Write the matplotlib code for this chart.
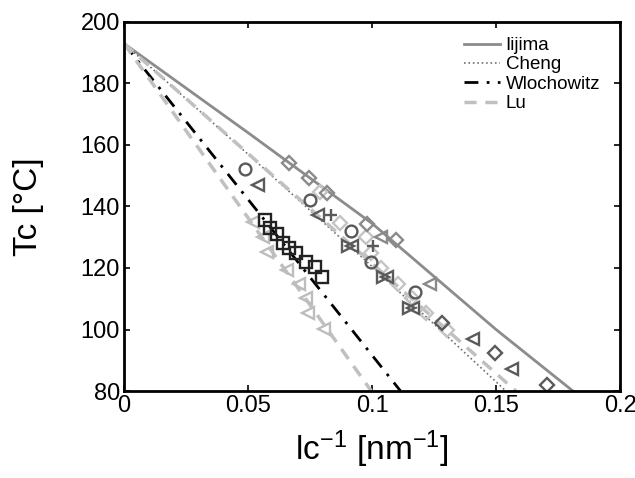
import numpy as np
import matplotlib
matplotlib.use('Agg')
import matplotlib.pyplot as plt

plt.rcParams['font.family'] = ['Liberation Sans', 'DejaVu Sans']
plt.rcParams['mathtext.fontset'] = 'custom'
plt.rcParams['mathtext.rm'] = 'Liberation Sans'
plt.rcParams['mathtext.it'] = 'Liberation Sans'

# model curves (x = 1/lc in nm^-1, y = Tc in degC)
iijima_x = [0, 0.05, 0.1, 0.15, 0.181]
iijima_y = [193, 164, 134.5, 100, 80]
cheng_x = [0, 0.05, 0.1, 0.154]
cheng_y = [193, 157, 120.5, 80]
wlo_x = [0, 0.1115]
wlo_y = [193, 80]
lu_x = [0, 0.158]
lu_y = [193, 80]
lu2_x = [0, 0.0997]
lu2_y = [193, 80]

# measured points
sq_x = [0.0569, 0.0589, 0.0617, 0.0641, 0.0665, 0.0694, 0.0734, 0.0770, 0.0798]
sq_y = [135.6, 133.0, 131.1, 128.1, 126.5, 124.9, 122.0, 120.3, 117.1]

ltri_x = [0.052, 0.056, 0.0577, 0.0657, 0.0706, 0.0734, 0.0742, 0.0806]
ltri_y = [135.0, 130.1, 125.2, 119.3, 114.8, 110.2, 105.4, 100.2]

ldia_x = [0.079, 0.0871, 0.0976, 0.0996, 0.1036, 0.1105, 0.1161, 0.1218, 0.1302]
ldia_y = [144.7, 134.6, 130.1, 124.9, 120.0, 114.8, 110.2, 105.4, 99.8]

mdia_x = [0.0665, 0.0746, 0.0819, 0.0980, 0.1097]
mdia_y = [154.1, 149.3, 144.4, 134.3, 129.1]
mtri_x = [0.1036, 0.1234]
mtri_y = [130.1, 114.8]

ddia_x = [0.1282, 0.1496, 0.1705]
ddia_y = [102.1, 92.4, 82.0]
dtri_x = [0.054, 0.0782, 0.0919, 0.106, 0.1165, 0.1407, 0.1565]
dtri_y = [147.0, 137.2, 127.2, 117.1, 107.0, 96.9, 87.2]
dtri2_x = [0.0905, 0.1046, 0.1151]
dtri2_y = [127.2, 117.1, 107.0]
circ_x = [0.0488, 0.075, 0.0915, 0.0996, 0.1173]
circ_y = [152.2, 142.1, 132.0, 122.0, 112.2]
plus_x = [0.0835, 0.1004]
plus_y = [137.2, 127.2]

fig = plt.figure(figsize=(6.35, 4.78), dpi=100)
ax = fig.add_axes([0.1953, 0.182, 0.7811, 0.772])

ax.plot(iijima_x, iijima_y, '-', color='#8c8c8c', lw=2, label='Iijima')
ax.plot(cheng_x, cheng_y, ':', color='#707070', lw=1.2, label='Cheng')
ax.plot(wlo_x, wlo_y, color='black', lw=2, dashes=(5, 3, 1, 3), label='Wlochowitz')
ax.plot(lu_x, lu_y, color='#c0c0c0', lw=2.5, dashes=(3.5, 2.5), label='Lu')
ax.plot(lu2_x, lu2_y, color='#c0c0c0', lw=2.5, dashes=(3.5, 2.5))

mk = dict(ls='none', mfc='none', mew=1.7, ms=8.5)
ax.plot(ltri_x, ltri_y, '<', mec='#bdbdbd', **mk)
ax.plot(ldia_x, ldia_y, 'D', mec='#c4c4c4', **dict(mk, ms=7))
ax.plot(mdia_x, mdia_y, 'D', mec='#8a8a8a', **dict(mk, ms=7))
ax.plot(mtri_x, mtri_y, '<', mec='#8a8a8a', **mk)
ax.plot(ddia_x, ddia_y, 'D', mec='#5a5a5a', **dict(mk, ms=7))
ax.plot(dtri_x, dtri_y, '<', mec='#5a5a5a', **mk)
ax.plot(dtri2_x, dtri2_y, '>', mec='#5a5a5a', **mk)
ax.plot(circ_x, circ_y, 'o', mec='#5a5a5a', **mk)
ax.plot(plus_x, plus_y, '+', mec='#5a5a5a', **mk)
ax.plot(sq_x, sq_y, 's', mec='#222222', **dict(mk, ms=8))

ax.set_xlim(0, 0.2)
ax.set_ylim(80, 200)
ax.set_xticks([0, 0.05, 0.1, 0.15, 0.2])
ax.set_xticklabels(['0', '0.05', '0.1', '0.15', '0.2'])
ax.set_yticks([80, 100, 120, 140, 160, 180, 200])
ax.tick_params(direction='in', top=True, right=True, length=4, width=1.2,
               labelsize=17, pad=3)
for s in ax.spines.values():
    s.set_linewidth(2)

ax.set_xlabel('lc$^{-1}$ [nm$^{-1}$]', fontsize=24, labelpad=8)
ax.set_ylabel('Tc [°C]', fontsize=24, labelpad=26)

ax.legend(loc='upper right', bbox_to_anchor=(0.99, 1.0), frameon=False,
          fontsize=13.5, handlelength=1.9, handletextpad=0.3, labelspacing=0.12,
          borderpad=0.3)

fig.savefig('out.png', dpi=100)
